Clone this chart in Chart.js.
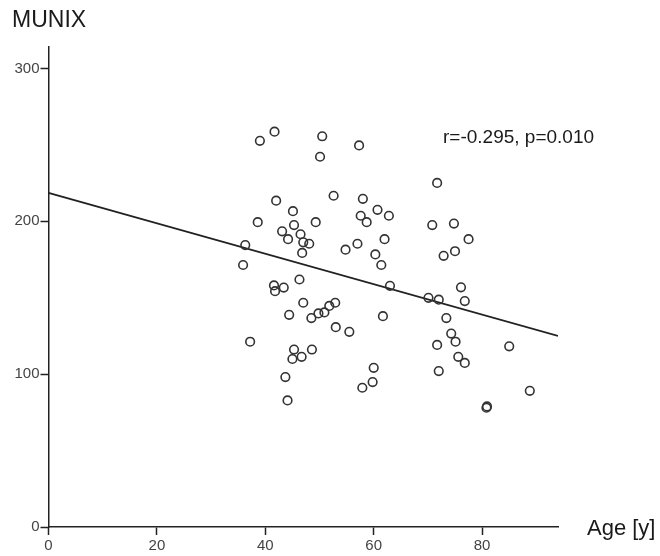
<!DOCTYPE html>
<html>
<head>
<meta charset="utf-8">
<script src="https://cdn.jsdelivr.net/npm/chart.js@4/dist/chart.umd.min.js"></script>
<style>
	html, body { margin: 0; padding: 0; background: #fff; }
	#wrap { width: 660px; height: 556px; position: relative; }
</style>
</head>
<body>
<div id="wrap"><canvas id="chart" width="660" height="556"></canvas></div>
<script>
// age [y] and MUNIX values
const ages = [
	39.0, 41.7, 50.5, 50.1, 57.3, 71.7, 42.0, 52.6, 58.0, 45.1,
	60.7, 57.6, 62.8, 38.6, 49.3, 58.7, 45.3, 70.8, 74.8, 43.1,
	46.5, 44.2, 62.0, 77.5, 47.0, 48.1, 57.0, 36.3, 54.8, 75.0,
	46.8, 60.3, 72.9, 35.9, 61.4, 46.3, 41.6, 41.8, 43.4, 63.0,
	76.1, 70.1, 72.0, 76.8, 47.0, 52.9, 51.8, 50.9, 49.8, 44.4,
	61.7, 48.5, 73.4, 53.0, 55.5, 74.3, 37.2, 75.1, 71.7, 85.0,
	45.3, 48.6, 45.0, 46.7, 75.6, 76.8, 60.0, 72.0, 43.7, 59.8,
	57.9, 88.8, 44.1, 80.8, 80.9
];
const munix = [
	252.6, 258.6, 255.6, 242.2, 249.6, 225.1, 213.5, 216.7, 214.7, 206.6,
	207.5, 203.6, 203.6, 199.4, 199.4, 199.4, 197.5, 197.5, 198.5, 193.4,
	191.5, 188.3, 188.3, 188.3, 186.2, 185.3, 185.3, 184.4, 181.4, 180.4,
	179.3, 178.3, 177.4, 171.4, 171.4, 161.9, 158.0, 154.3, 156.6, 157.8,
	156.8, 149.9, 148.7, 147.8, 146.7, 146.7, 144.6, 140.4, 139.7, 138.8,
	137.9, 136.7, 136.7, 130.7, 127.7, 126.5, 121.2, 121.2, 119.1, 118.2,
	116.1, 116.1, 109.9, 111.3, 111.3, 107.3, 104.1, 102.0, 98.1, 94.8,
	91.1, 89.1, 82.8, 78.0, 78.9
];
// regression line end points
const fitAges = [0, 94];
const fitMunix = [218.5, 125.0];

const xTicks = [0, 20, 40, 60, 80];
const yTicks = [0, 100, 200, 300];
const statText = "r=-0.295, p=0.010";

const points = ages.map((a, i) => ({ x: a, y: munix[i] }));
const fitPoints = fitAges.map((a, i) => ({ x: a, y: fitMunix[i] }));

const tickFont = { family: "'Liberation Sans Narrow', 'Liberation Sans', Arial, sans-serif", size: 15 };

// texts outside the axes: MUNIX, Age [y] and the r/p note
const labelsPlugin = {
	id: "labels",
	afterDraw(chart) {
		const ctx = chart.ctx;
		const area = chart.chartArea;
		ctx.save();
		ctx.fillStyle = "#1a1a1a";
		ctx.textBaseline = "alphabetic";
		ctx.textAlign = "left";
		ctx.font = "23px 'Liberation Sans', Arial, sans-serif";
		ctx.fillText("MUNIX", 12, 27);
		ctx.font = "22px 'Liberation Sans', Arial, sans-serif";
		ctx.fillText("Age [y]", area.right + 29, area.bottom + 8);
		ctx.font = "19px 'Liberation Sans', Arial, sans-serif";
		ctx.fillText(statText, 443, 143);
		ctx.restore();
	},
};

new Chart(document.getElementById("chart"), {
	type: "scatter",
	data: {
		datasets: [
			{
				data: points,
				pointStyle: "circle",
				pointRadius: 4.3,
				pointBorderWidth: 1.6,
				pointBorderColor: "#333",
				pointBackgroundColor: "rgba(255,255,255,0)",
				showLine: false,
			},
			{
				type: "line",
				data: fitPoints,
				borderColor: "#222",
				borderWidth: 1.8,
				pointRadius: 0,
				fill: false,
			},
		],
	},
	plugins: [labelsPlugin],
	options: {
		responsive: false,
		animation: false,
		layout: { padding: { top: 47, right: 102, left: 0, bottom: 0 } },
		plugins: {
			legend: { display: false },
			tooltip: { enabled: false },
		},
		scales: {
			x: {
				type: "linear",
				min: 0,
				max: 94,
				afterBuildTicks: (s) => {
					s.ticks = xTicks.map((v) => ({ value: v }));
				},
				afterFit: (s) => {
					s.height = 29;
				},
				border: { display: true, color: "#222", width: 1.5 },
				grid: { drawOnChartArea: false, drawTicks: true, tickLength: 8, tickWidth: 1.5, tickColor: "#222" },
				ticks: { color: "#444", font: tickFont, padding: 2, maxRotation: 0 },
			},
			y: {
				type: "linear",
				min: 0,
				max: 314,
				afterBuildTicks: (s) => {
					s.ticks = yTicks.map((v) => ({ value: v }));
				},
				afterFit: (s) => {
					s.width = 48.5;
				},
				border: { display: true, color: "#222", width: 1.5 },
				grid: { drawOnChartArea: false, drawTicks: true, tickLength: 8, tickWidth: 1.5, tickColor: "#222" },
				ticks: { color: "#444", font: tickFont, padding: 1 },
			},
		},
	},
});
</script>
</body>
</html>
